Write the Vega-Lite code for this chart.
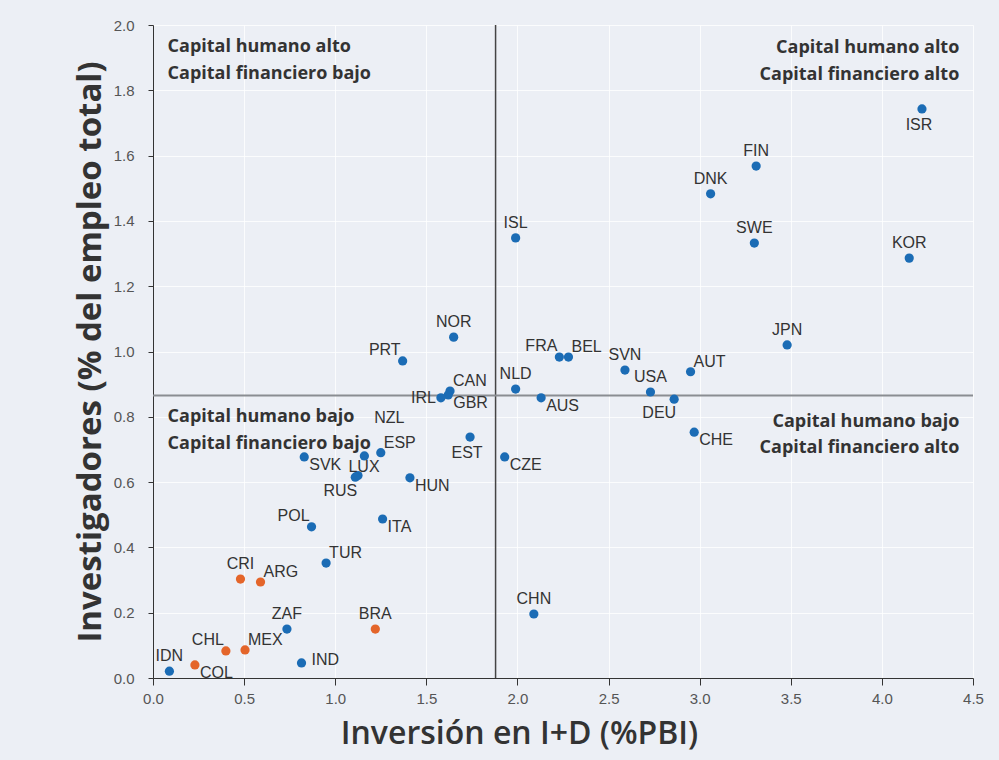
{
  "$schema": "https://vega.github.io/schema/vega-lite/v6.json",
  "width": 820,
  "height": 653,
  "autosize": {"type": "none"},
  "padding": {"left": 153, "top": 25, "right": 26, "bottom": 82},
  "background": "#eceff5",
  "config": {
    "view": {"stroke": null, "fill": "#eceff5"},
    "font": "Liberation Sans",
    "axis": {
      "gridColor": "#ffffff",
      "gridOpacity": 0.8,
      "domainColor": "#333333",
      "tickColor": "#333333",
      "labelFont": "Liberation Sans",
      "labelFontSize": 15,
      "labelColor": "#555555",
      "labelFlush": false,
      "titleColor": "#333333",
      "titleFont": "Open Sans"
    }
  },
  "datasets": {
    "pts": [
      {"c": "ISR", "x": 4.22, "y": 1.743, "g": "a", "pos": "S"},
      {"c": "FIN", "x": 3.31, "y": 1.568, "g": "a", "pos": "N"},
      {"c": "DNK", "x": 3.06, "y": 1.483, "g": "a", "pos": "N"},
      {"c": "SWE", "x": 3.30, "y": 1.332, "g": "a", "pos": "N"},
      {"c": "KOR", "x": 4.15, "y": 1.286, "g": "a", "pos": "N"},
      {"c": "ISL", "x": 1.99, "y": 1.348, "g": "a", "pos": "N"},
      {"c": "JPN", "x": 3.48, "y": 1.02, "g": "a", "pos": "N"},
      {"c": "AUT", "x": 2.95, "y": 0.938, "g": "a", "pos": "NE"},
      {"c": "SVN", "x": 2.59, "y": 0.943, "g": "a", "pos": "N"},
      {"c": "FRA", "x": 2.23, "y": 0.983, "g": "a", "pos": "NW"},
      {"c": "BEL", "x": 2.28, "y": 0.983, "g": "a", "pos": "NE"},
      {"c": "NLD", "x": 1.99, "y": 0.885, "g": "a", "pos": "N"},
      {"c": "AUS", "x": 2.13, "y": 0.858, "g": "a", "pos": "SE"},
      {"c": "USA", "x": 2.73, "y": 0.876, "g": "a", "pos": "N"},
      {"c": "DEU", "x": 2.86, "y": 0.854, "g": "a", "pos": "SW"},
      {"c": "CHE", "x": 2.97, "y": 0.753, "g": "a", "pos": "SE"},
      {"c": "CZE", "x": 1.93, "y": 0.677, "g": "a", "pos": "SE"},
      {"c": "EST", "x": 1.74, "y": 0.738, "g": "a", "pos": "S"},
      {"c": "NOR", "x": 1.65, "y": 1.044, "g": "a", "pos": "N"},
      {"c": "PRT", "x": 1.37, "y": 0.971, "g": "a", "pos": "NW"},
      {"c": "CAN", "x": 1.63, "y": 0.879, "g": "a", "pos": "NE"},
      {"c": "GBR", "x": 1.62, "y": 0.867, "g": "a", "pos": "SE"},
      {"c": "IRL", "x": 1.58, "y": 0.858, "g": "a", "pos": "W"},
      {"c": "NZL", "x": 1.16, "y": 0.68, "g": "a", "pos": "NZ"},
      {"c": "ESP", "x": 1.25, "y": 0.69, "g": "a", "pos": "NE"},
      {"c": "SVK", "x": 0.83, "y": 0.677, "g": "a", "pos": "SE"},
      {"c": "LUX", "x": 1.125, "y": 0.62, "g": "a", "pos": "C"},
      {"c": "RUS", "x": 1.11, "y": 0.615, "g": "a", "pos": "SW"},
      {"c": "HUN", "x": 1.41, "y": 0.613, "g": "a", "pos": "SE"},
      {"c": "POL", "x": 0.87, "y": 0.463, "g": "a", "pos": "NW"},
      {"c": "ITA", "x": 1.26, "y": 0.487, "g": "a", "pos": "SE"},
      {"c": "TUR", "x": 0.95, "y": 0.352, "g": "a", "pos": "NE"},
      {"c": "CRI", "x": 0.48, "y": 0.303, "g": "b", "pos": "N"},
      {"c": "ARG", "x": 0.59, "y": 0.294, "g": "b", "pos": "NE"},
      {"c": "ZAF", "x": 0.735, "y": 0.15, "g": "a", "pos": "N"},
      {"c": "BRA", "x": 1.22, "y": 0.15, "g": "b", "pos": "N"},
      {"c": "CHL", "x": 0.40, "y": 0.083, "g": "b", "pos": "NW"},
      {"c": "MEX", "x": 0.505, "y": 0.086, "g": "b", "pos": "NE"},
      {"c": "IDN", "x": 0.09, "y": 0.021, "g": "a", "pos": "N"},
      {"c": "COL", "x": 0.23, "y": 0.04, "g": "b", "pos": "SE"},
      {"c": "IND", "x": 0.815, "y": 0.046, "g": "a", "pos": "E"},
      {"c": "CHN", "x": 2.09, "y": 0.196, "g": "a", "pos": "N"}
    ],
    "quad": [
      {"t": "Capital humano alto", "x": 0.08, "y": 1.933, "side": "L"},
      {"t": "Capital financiero bajo", "x": 0.08, "y": 1.85, "side": "L"},
      {"t": "Capital humano alto", "x": 4.425, "y": 1.93, "side": "R"},
      {"t": "Capital financiero alto", "x": 4.425, "y": 1.847, "side": "R"},
      {"t": "Capital humano bajo", "x": 0.08, "y": 0.799, "side": "L"},
      {"t": "Capital financiero bajo", "x": 0.08, "y": 0.717, "side": "L"},
      {"t": "Capital humano bajo", "x": 4.425, "y": 0.784, "side": "R"},
      {"t": "Capital financiero alto", "x": 4.425, "y": 0.704, "side": "R"}
    ]
  },
  "layer": [
    {
      "data": {"values": [{"v": 1.88}]},
      "mark": {"type": "rule", "color": "#444444", "strokeWidth": 1.5},
      "encoding": {"x": {"field": "v", "type": "quantitative", "scale": {"domain": [0, 4.5], "nice": false}}}
    },
    {
      "data": {"values": [{"v": 0.865}]},
      "mark": {"type": "rule", "color": "#8a8d92", "strokeWidth": 2},
      "encoding": {"y": {"field": "v", "type": "quantitative", "scale": {"domain": [0, 2], "nice": false}}}
    },
    {
      "data": {"name": "pts"},
      "mark": {"type": "circle", "size": 85, "opacity": 1},
      "encoding": {
        "x": {
          "field": "x", "type": "quantitative",
          "scale": {"domain": [0, 4.5], "nice": false},
          "axis": {
            "values": [0, 0.5, 1, 1.5, 2, 2.5, 3, 3.5, 4, 4.5],
            "format": ".1f",
            "title": "Inversión en I+D (%PBI)",
            "titleFontSize": 32,
            "titleFontWeight": 600,
            "titlePadding": 12,
            "titleX": 366,
            "tickSize": 7,
            "labelPadding": 6
          }
        },
        "y": {
          "field": "y", "type": "quantitative",
          "scale": {"domain": [0, 2], "nice": false},
          "axis": {
            "values": [0, 0.2, 0.4, 0.6, 0.8, 1.0, 1.2, 1.4, 1.6, 1.8, 2.0],
            "format": ".1f",
            "title": "Investigadores (% del empleo total)",
            "titleFontSize": 33,
            "titleFontWeight": "bold",
            "titlePadding": 6,
            "tickSize": 5,
            "labelPadding": 14
          }
        },
        "color": {
          "field": "g", "type": "nominal",
          "scale": {"domain": ["a", "b"], "range": ["#1b6cb5", "#e4652a"]},
          "legend": null
        }
      }
    },
    {
      "data": {"name": "pts"},
      "transform": [{"filter": "datum.pos == 'N'"}],
      "mark": {"type": "text", "align": "center", "baseline": "bottom", "dy": -7, "fontSize": 16, "color": "#333333"},
      "encoding": {"x": {"field": "x", "type": "quantitative"}, "y": {"field": "y", "type": "quantitative"}, "text": {"field": "c"}}
    },
    {
      "data": {"name": "pts"},
      "transform": [{"filter": "datum.pos == 'C'"}],
      "mark": {"type": "text", "align": "center", "baseline": "middle", "dx": 6, "dy": -9, "fontSize": 16, "color": "#333333"},
      "encoding": {"x": {"field": "x", "type": "quantitative"}, "y": {"field": "y", "type": "quantitative"}, "text": {"field": "c"}}
    },
    {
      "data": {"name": "pts"},
      "transform": [{"filter": "datum.pos == 'NZ'"}],
      "mark": {"type": "text", "align": "center", "baseline": "bottom", "dx": 25, "dy": -30, "fontSize": 16, "color": "#333333"},
      "encoding": {"x": {"field": "x", "type": "quantitative"}, "y": {"field": "y", "type": "quantitative"}, "text": {"field": "c"}}
    },
    {
      "data": {"name": "pts"},
      "transform": [{"filter": "datum.pos == 'S'"}],
      "mark": {"type": "text", "align": "center", "baseline": "top", "dx": -3, "dy": 8, "fontSize": 16, "color": "#333333"},
      "encoding": {"x": {"field": "x", "type": "quantitative"}, "y": {"field": "y", "type": "quantitative"}, "text": {"field": "c"}}
    },
    {
      "data": {"name": "pts"},
      "transform": [{"filter": "datum.pos == 'E'"}],
      "mark": {"type": "text", "align": "left", "baseline": "middle", "dx": 10, "dy": -3, "fontSize": 16, "color": "#333333"},
      "encoding": {"x": {"field": "x", "type": "quantitative"}, "y": {"field": "y", "type": "quantitative"}, "text": {"field": "c"}}
    },
    {
      "data": {"name": "pts"},
      "transform": [{"filter": "datum.pos == 'W'"}],
      "mark": {"type": "text", "align": "right", "baseline": "middle", "dx": -5, "dy": 0, "fontSize": 16, "color": "#333333"},
      "encoding": {"x": {"field": "x", "type": "quantitative"}, "y": {"field": "y", "type": "quantitative"}, "text": {"field": "c"}}
    },
    {
      "data": {"name": "pts"},
      "transform": [{"filter": "datum.pos == 'NE'"}],
      "mark": {"type": "text", "align": "left", "baseline": "bottom", "dx": 3, "dy": -2, "fontSize": 16, "color": "#333333"},
      "encoding": {"x": {"field": "x", "type": "quantitative"}, "y": {"field": "y", "type": "quantitative"}, "text": {"field": "c"}}
    },
    {
      "data": {"name": "pts"},
      "transform": [{"filter": "datum.pos == 'NW'"}],
      "mark": {"type": "text", "align": "right", "baseline": "bottom", "dx": -2, "dy": -3, "fontSize": 16, "color": "#333333"},
      "encoding": {"x": {"field": "x", "type": "quantitative"}, "y": {"field": "y", "type": "quantitative"}, "text": {"field": "c"}}
    },
    {
      "data": {"name": "pts"},
      "transform": [{"filter": "datum.pos == 'SE'"}],
      "mark": {"type": "text", "align": "left", "baseline": "top", "dx": 5, "dy": 0, "fontSize": 16, "color": "#333333"},
      "encoding": {"x": {"field": "x", "type": "quantitative"}, "y": {"field": "y", "type": "quantitative"}, "text": {"field": "c"}}
    },
    {
      "data": {"name": "pts"},
      "transform": [{"filter": "datum.pos == 'SW'"}],
      "mark": {"type": "text", "align": "right", "baseline": "top", "dx": 2, "dy": 6, "fontSize": 16, "color": "#333333"},
      "encoding": {"x": {"field": "x", "type": "quantitative"}, "y": {"field": "y", "type": "quantitative"}, "text": {"field": "c"}}
    },
    {
      "data": {"name": "quad"},
      "transform": [{"filter": "datum.side == 'L'"}],
      "mark": {"type": "text", "align": "left", "baseline": "middle", "font": "Open Sans", "fontWeight": "bold", "fontSize": 18, "color": "#333333"},
      "encoding": {"x": {"field": "x", "type": "quantitative"}, "y": {"field": "y", "type": "quantitative"}, "text": {"field": "t"}}
    },
    {
      "data": {"name": "quad"},
      "transform": [{"filter": "datum.side == 'R'"}],
      "mark": {"type": "text", "align": "right", "baseline": "middle", "font": "Open Sans", "fontWeight": "bold", "fontSize": 18, "color": "#333333"},
      "encoding": {"x": {"field": "x", "type": "quantitative"}, "y": {"field": "y", "type": "quantitative"}, "text": {"field": "t"}}
    }
  ]
}
